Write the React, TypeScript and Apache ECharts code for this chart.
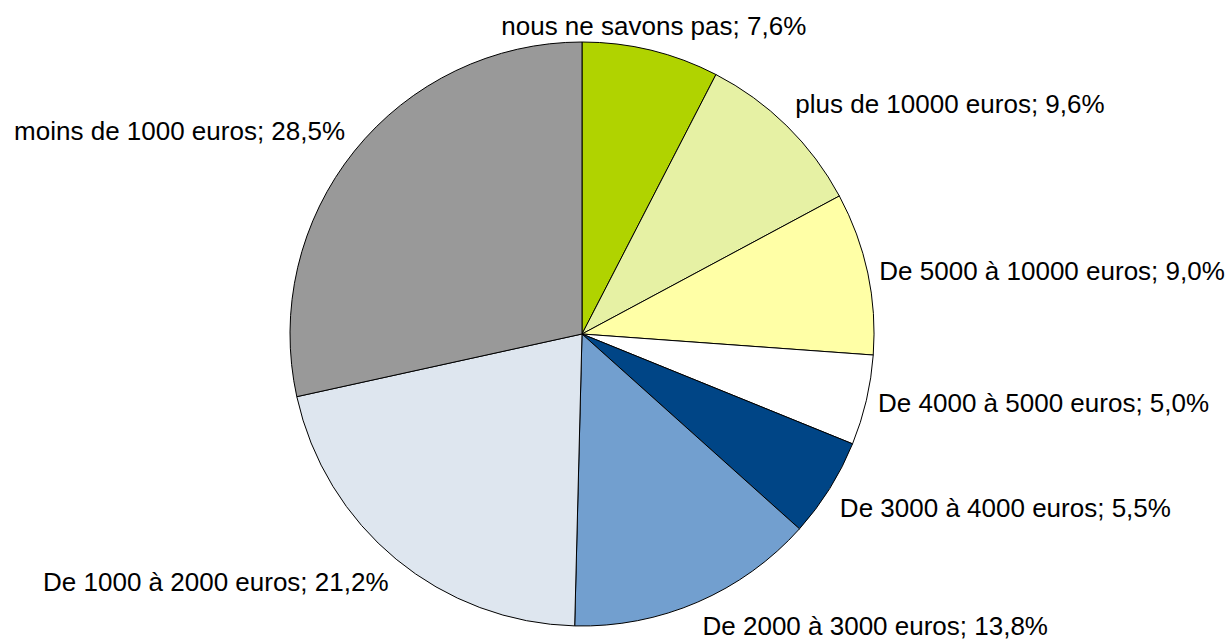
import React, { useEffect, useRef } from "react";
import * as echarts from "echarts";

const categories = [
  "nous ne savons pas",
  "plus de 10000 euros",
  "De 5000 à 10000 euros",
  "De 4000 à 5000 euros",
  "De 3000 à 4000 euros",
  "De 2000 à 3000 euros",
  "De 1000 à 2000 euros",
  "moins de 1000 euros",
];
const values = [7.6, 9.6, 9.0, 5.0, 5.5, 13.8, 21.2, 28.5];
const colors = ["#b0d300", "#e6f1a4", "#ffffa6", "#ffffff", "#004586", "#729fcf", "#dee6ef", "#999999"];

const CX = 582;
const CY = 334;
const R = 292;
const GAP = 12;

export default function App() {
  const ref = useRef<HTMLDivElement>(null);
  useEffect(() => {
    document.body.style.margin = "0";
    const chart = echarts.init(ref.current!, null, { renderer: "svg" });
    const total = values.reduce((a, b) => a + b, 0);
    const mids: number[] = [];
    let acc = 0;
    values.forEach((v) => {
      mids.push(((acc + v / 2) / total) * Math.PI * 2);
      acc += v;
    });
    chart.setOption({
      animation: false,
      backgroundColor: "#ffffff",
      series: [
        {
          type: "pie",
          center: [CX, CY],
          radius: R,
          startAngle: 90,
          clockwise: true,
          avoidLabelOverlap: false,
          data: categories.map((c, i) => ({
            name: c,
            value: values[i],
            itemStyle: { color: colors[i] },
          })),
          itemStyle: { borderColor: "#000000", borderWidth: 1 },
          label: {
            show: true,
            position: "outside",
            overflow: "none",
            formatter: (p: any) => `${p.name}; ${p.value.toFixed(1).replace(".", ",")}%`,
            fontFamily: "Liberation Sans",
            fontSize: 26,
            lineHeight: 26,
            color: "#000000",
          },
          labelLine: { show: false },
          emphasis: { disabled: true },
          labelLayout: (params: any) => {
            const t = mids[params.dataIndex];
            const sx = Math.sin(t);
            const cy = Math.cos(t);
            const ax = CX + (R + GAP) * sx;
            const ay = CY - (R + GAP) * cy;
            const r = params.labelRect;
            const left = sx > 0.3 ? ax : sx < -0.3 ? ax - r.width : ax - r.width / 2;
            const top = cy > 0.3 ? ay - r.height : cy < -0.3 ? ay : ay - r.height / 2;
            return { dx: left - r.x, dy: top - r.y };
          },
        },
      ],
    });
    return () => chart.dispose();
  }, []);
  return <div ref={ref} style={{ position: "fixed", left: 0, top: 0, width: 1225, height: 639 }} />;
}
